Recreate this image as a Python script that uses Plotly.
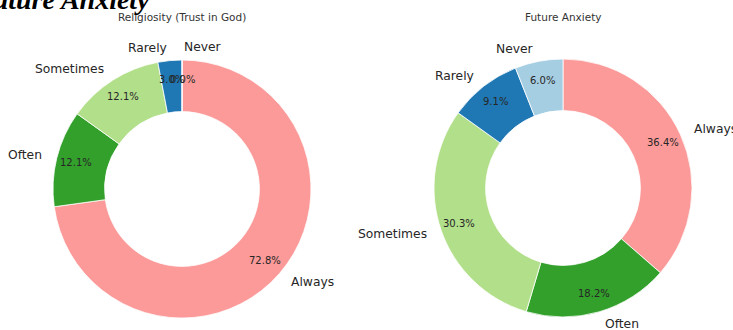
import numpy as np
import plotly.graph_objects as go

W, H = 733, 330

categories = ["Always", "Often", "Sometimes", "Rarely", "Never"]
religiosity_values = [72.8, 12.1, 12.1, 3.0, 0.0]
anxiety_values = [36.4, 18.2, 30.3, 9.1, 6.0]
titles = ["Religiosity (Trust in God)", "Future Anxiety"]
heading = "Future Anxiety"
colors = ["#fb9a99", "#33a02c", "#b2df8a", "#1f78b4", "#a6cee3"]

fig = go.Figure()
annotations = []

def add_donut(values, cx, cy, r, title):
    fig.add_trace(go.Pie(
        labels=categories, values=values, sort=False, direction="clockwise",
        rotation=0, hole=0.6, textinfo="none", showlegend=False,
        hoverinfo="skip",
        marker=dict(colors=colors, line=dict(color="white", width=0.8)),
        domain=dict(x=[(cx - r) / W, (cx + r) / W],
                    y=[1 - (cy + r) / H, 1 - (cy - r) / H]),
    ))
    total = float(sum(values))
    start = 0.0
    for lab, v in zip(categories, values):
        mid = start + v / total / 2
        start += v / total
        th = np.pi / 2 - 2 * np.pi * mid
        c, s = round(np.cos(th), 9), round(np.sin(th), 9)
        lx, ly = cx + 1.1 * r * c, cy - 1.1 * r * s
        annotations.append(dict(
            x=lx / W, y=1 - ly / H, xref="paper", yref="paper", text=lab,
            showarrow=False, xanchor="left" if c >= 0 else "right", yanchor="middle",
            font=dict(family="DejaVu Sans", size=12.3, color="#262626")))
        px_, py_ = cx + 0.85 * r * c, cy - 0.85 * r * s
        annotations.append(dict(
            x=px_ / W, y=1 - py_ / H, xref="paper", yref="paper",
            text=f"{100 * v / total:.1f}%", showarrow=False,
            xanchor="center", yanchor="middle",
            font=dict(family="DejaVu Sans", size=10, color="#262626")))
    annotations.append(dict(
        x=cx / W, y=1 - 17 / H, xref="paper", yref="paper", text=title,
        showarrow=False, xanchor="center", yanchor="middle",
        font=dict(family="DejaVu Sans", size=10.5, color="#333333")))

add_donut(religiosity_values, 182, 189, 129, titles[0])
add_donut(anxiety_values, 563, 188, 129, titles[1])

# cut-off document heading at the top-left
annotations.append(dict(
    x=152 / W, y=1 + 1 / H, xref="paper", yref="paper",
    text=f"<b><i>{heading}</i></b>", showarrow=False,
    xanchor="right", yanchor="middle",
    font=dict(family="Liberation Serif", size=28, color="black")))

fig.update_layout(
    width=W, height=H, margin=dict(l=0, r=0, t=0, b=0),
    paper_bgcolor="white", plot_bgcolor="white",
    annotations=annotations,
)
fig.write_html("out.html", config={"displayModeBar": False},
               post_script="document.body.style.margin='0';")
